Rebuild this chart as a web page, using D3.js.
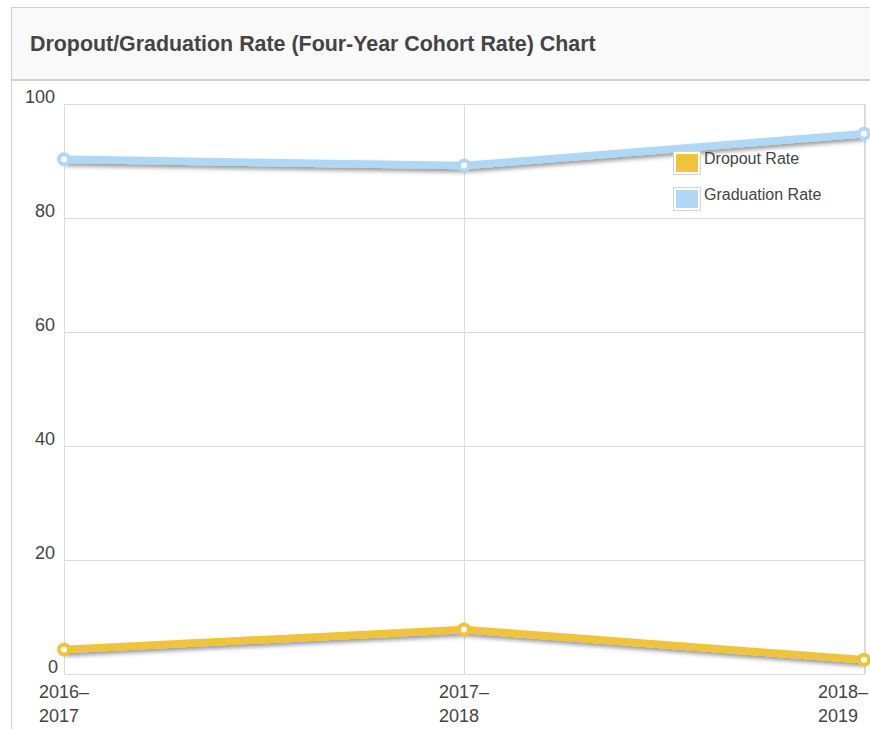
<!DOCTYPE html>
<meta charset="utf-8">
<style>
html, body { margin: 0; padding: 0; background: #fff; }
svg { display: block; font-family: "Liberation Sans", Arial, sans-serif; }
.grid line { stroke: #dcdcdc; stroke-width: 1; }
.tick-label { fill: #444; font-size: 18px; }
.legend-label { fill: #444; font-size: 16px; }
</style>
<div id="chart"></div>
<script src="https://cdn.jsdelivr.net/npm/d3@7"></script>
<script>

// chart values
var years = ['2016–2017', '2017–2018', '2018–2019'];
var dropoutRate = [4.3, 7.8, 2.5];
var graduationRate = [90.3, 89.2, 94.8];
var yTicks = [0, 20, 40, 60, 80, 100];
var seriesNames = ['Dropout Rate', 'Graduation Rate'];
var seriesColors = ['#f0c33c', '#afd8f6'];

var width = 870, height = 729;
var plot = {left: 64, top: 104, right: 864, bottom: 674};

var svg = d3.select('#chart').append('svg')
    .attr('width', width)
    .attr('height', height);

var defs = svg.append('defs');
var shadow = defs.append('filter')
    .attr('id', 'shadow')
    .attr('x', '-10%').attr('y', '-50%')
    .attr('width', '120%').attr('height', '200%');
shadow.append('feDropShadow')
    .attr('dx', 1).attr('dy', 3)
    .attr('stdDeviation', 2)
    .attr('flood-color', '#000')
    .attr('flood-opacity', 0.4);

// panel + header
svg.append('rect')
    .attr('x', 11.5).attr('y', 7.5)
    .attr('width', width + 20).attr('height', height + 20)
    .attr('fill', '#fff')
    .attr('stroke', '#cfcfcf');
svg.append('rect')
    .attr('x', 12).attr('y', 8)
    .attr('width', width).attr('height', 72)
    .attr('fill', '#f9f9f9');
svg.append('line')
    .attr('x1', 12).attr('x2', width)
    .attr('y1', 80).attr('y2', 80)
    .attr('stroke', '#d0d0d0').attr('stroke-width', 2);
svg.append('text')
    .attr('x', 30).attr('y', 51)
    .attr('fill', '#444')
    .style('font-size', '21.4px')
    .style('font-weight', 'bold')
    .text('Dropout/Graduation Rate (Four-Year Cohort Rate) Chart');

var x = d3.scalePoint()
    .domain(years)
    .range([plot.left, plot.right]);

var y = d3.scaleLinear()
    .domain([0, 100])
    .range([plot.bottom, plot.top]);

// grid
var grid = svg.append('g').attr('class', 'grid');
grid.selectAll('line.h')
  .data(yTicks)
  .enter().append('line')
    .attr('class', 'h')
    .attr('x1', plot.left).attr('x2', plot.right + 1)
    .attr('y1', function(d) { return Math.round(y(d)) + 0.5; })
    .attr('y2', function(d) { return Math.round(y(d)) + 0.5; });
grid.selectAll('line.v')
  .data(years)
  .enter().append('line')
    .attr('class', 'v')
    .attr('x1', function(d) { return Math.round(x(d)) + 0.5; })
    .attr('x2', function(d) { return Math.round(x(d)) + 0.5; })
    .attr('y1', plot.top).attr('y2', plot.bottom);
grid.append('line')
    .attr('x1', plot.right + 1.5).attr('x2', plot.right + 1.5)
    .attr('y1', plot.top).attr('y2', plot.bottom);

// y labels
svg.append('g').selectAll('text')
  .data(yTicks)
  .enter().append('text')
    .attr('class', 'tick-label')
    .attr('x', function(d) { return d === 0 ? 58 : 55; })
    .attr('y', function(d) { return y(d) - 1; })
    .attr('text-anchor', 'end')
    .text(function(d) { return d; });

// x labels: two left-aligned lines, block centred under the tick, kept inside the panel
var xl = svg.append('g').selectAll('text')
  .data(years)
  .enter().append('text')
    .attr('class', 'tick-label');
xl.append('tspan')
    .attr('y', 698)
    .text(function(d) { return d.split('–')[0] + '–'; });
xl.append('tspan')
    .attr('y', 722)
    .text(function(d) { return d.split('–')[1]; });
xl.each(function(d) {
  var first = d3.select(this).select('tspan').node();
  var w = first.getComputedTextLength();
  var left = Math.min(x(d) - w / 2, 868 - w);
  d3.select(this).selectAll('tspan').attr('x', left);
});

// lines
var series = [dropoutRate, graduationRate];
var line = d3.line()
    .x(function(d, i) { return x(years[i]); })
    .y(function(d) { return y(d); });

var sg = svg.append('g').selectAll('g')
  .data(series)
  .enter().append('g');
sg.append('path')
    .attr('d', line)
    .attr('fill', 'none')
    .attr('stroke', function(d, i) { return seriesColors[i]; })
    .attr('stroke-width', 7.5)
    .attr('stroke-linejoin', 'round')
    .attr('filter', 'url(#shadow)');
sg.each(function(vals, si) {
  d3.select(this).selectAll('circle')
    .data(vals)
    .enter().append('circle')
      .attr('cx', function(d, i) { return x(years[i]); })
      .attr('cy', function(d) { return y(d); })
      .attr('r', 5)
      .attr('fill', '#fff')
      .attr('stroke', seriesColors[si])
      .attr('stroke-width', 4);
});

// legend
var lg = svg.append('g').selectAll('g')
  .data(seriesNames)
  .enter().append('g')
    .attr('transform', function(d, i) { return 'translate(673,' + (151 + i * 36) + ')'; });
lg.append('rect')
    .attr('x', 0.5).attr('y', 0.5)
    .attr('width', 27).attr('height', 23)
    .attr('fill', '#fff')
    .attr('stroke', '#d4d4d4');
lg.append('rect')
    .attr('x', 3).attr('y', 3)
    .attr('width', 22).attr('height', 18)
    .attr('fill', function(d, i) { return seriesColors[i]; });
lg.append('text')
    .attr('class', 'legend-label')
    .attr('x', 31).attr('y', 13)
    .text(function(d) { return d; });

</script>
